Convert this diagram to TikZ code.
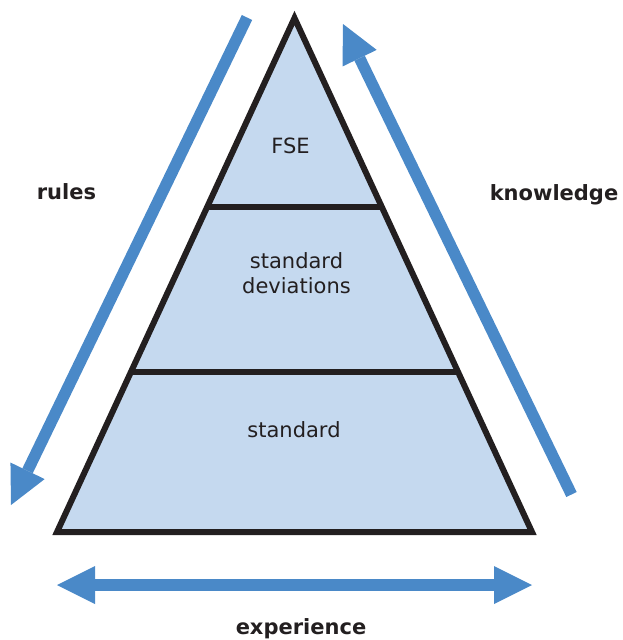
\documentclass[tikz,border=0pt]{standalone}
\usepackage{fontspec}
\setmainfont{DejaVu Sans}
\usetikzlibrary{arrows.meta,calc}
\definecolor{flowblue}{HTML}{4A89C8}
\definecolor{layerblue}{HTML}{C5D9EF}
\definecolor{inkblack}{HTML}{231F20}
\begin{document}
\begin{tikzpicture}[x=1pt,y=-1pt,
	>={Triangle[length=38pt,width=38pt,line width=0pt]},
	flow/.style = {draw=flowblue, line width=11.5pt},
	edge line/.style = {draw=inkblack, line width=6pt, line join=miter},
	layer text/.style = {text=inkblack, inner sep=0pt, anchor=base, align=center,
		font=\fontsize{21}{25}\selectfont},
	side text/.style = {layer text, font=\fontsize{21}{25}\selectfont\bfseries}]
	\useasboundingbox (0,0) rectangle (622,640);
	
	\coordinate (apex) at (294.5,18);
	\coordinate (left) at (57,532);
	\coordinate (right) at (532,532);
	
	% pyramid
	\fill[layerblue] (apex) -- (left) -- (right) -- cycle;
	\draw[edge line] ($(apex)!0.3677!(left)$) -- ($(apex)!0.3677!(right)$);
	\draw[edge line] ($(apex)!0.6887!(left)$) -- ($(apex)!0.6887!(right)$);
	\draw[edge line] (apex) -- (left) -- (right) -- cycle;
	
	\node[layer text] (fse) at (290.5,153) {FSE};
	\node[layer text] (deviations) at (296.5,293) {standard\\deviations};
	\node[layer text] (standard) at (294,437) {standard};
	
	% arrows
	\coordinate (rules start) at (247,17.5);
	\coordinate (rules end) at (11,505);
	\coordinate (knowledge start) at (571.5,494.5);
	\coordinate (knowledge end) at (343,24);
	\coordinate (experience left) at (57,585);
	\coordinate (experience right) at (532,585);
	
	\draw[flow,->] (rules start) -- (rules end);
	\draw[flow,->] (knowledge start) -- (knowledge end);
	\draw[flow,<->] (experience left) -- (experience right);
	
	\node[side text] (rules) at (66.5,199.5) {rules};
	\node[side text] (knowledge) at (554,200) {knowledge};
	\node[side text] (experience) at (301,634) {experience};
\end{tikzpicture}
\end{document}
